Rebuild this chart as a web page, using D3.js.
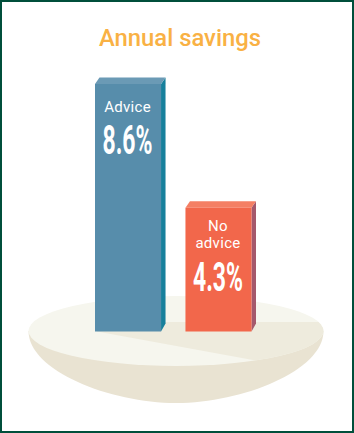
<!DOCTYPE html>
<html>
<head>
<meta charset="utf-8">
<script src="https://cdn.jsdelivr.net/npm/d3@7/dist/d3.min.js"></script>
<style>
html,body{margin:0;padding:0;background:#fff}
svg{display:block}
text{fill:#fff;text-anchor:middle}
</style>
</head>
<body>
<div id="chart"></div>
<script>
const titleText = ["Annual savings"];
const categories = ["Advice", "No advice"];
const values = [8.6, 4.3];
const valueLabels = ["8.6%", "4.3%"];
const labelLines = [["Advice"], ["No", "advice"]];
const frontColors = ["#578dab", "#f2674b"];
const topColors = ["#6b9ab5", "#f47f64"];
const sideColors = ["#17809c", "#a5596c"];

const W = 354, H = 433;
const svg = d3.select("#chart").append("svg").attr("width", W).attr("height", H);
svg.append("rect").attr("x",1).attr("y",1).attr("width",W-2).attr("height",H-2)
  .attr("fill","#fff").attr("stroke","#004f3b").attr("stroke-width",2);

const x = d3.scaleBand().domain(categories).range([95, 251.5]).paddingInner(0.27).paddingOuter(0);
const y = d3.scaleLinear().domain([0, 8.6]).range([331.5, 84]);

// dish
const cx = 176, cy = 331, rx = 147.5, ryTop = 35, ryBowl = 72;
const clipId = "plate";
svg.append("clipPath").attr("id", clipId).append("ellipse")
  .attr("cx",cx).attr("cy",cy).attr("rx",rx).attr("ry",ryTop);
const bowl = d3.path();
bowl.moveTo(cx-rx, cy);
bowl.bezierCurveTo(cx-rx, cy+ryBowl*0.55, cx-rx*0.45, cy+ryBowl, cx, cy+ryBowl);
bowl.bezierCurveTo(cx+rx*0.45, cy+ryBowl, cx+rx, cy+ryBowl*0.55, cx+rx, cy);
bowl.closePath();
svg.append("path").attr("d", bowl.toString()).attr("fill","#e9e3d2");
svg.append("ellipse").attr("cx",cx).attr("cy",cy).attr("rx",rx).attr("ry",ryTop).attr("fill","#f6f6ee");
svg.append("path").attr("clip-path",`url(#${clipId})`)
  .attr("d","M97,331.5L257,360.7L340,376V322H97Z").attr("fill","#eeebdd");

// bars
const dx = 4.5, dyTop = 6.5;
const g = svg.selectAll("g.bar").data(categories).join("g").attr("class","bar");
g.append("path")
  .attr("fill",(d,i)=>sideColors[i])
  .attr("d",(d,i)=>{
    const r = x(d)+x.bandwidth(), t = y(values[i]), b = y(0);
    return `M${r},${t}L${r+dx},${t-dyTop}V${b-8}L${r},${b}Z`;
  });
g.append("path")
  .attr("fill",(d,i)=>topColors[i])
  .attr("d",(d,i)=>{
    const l = x(d), r = l+x.bandwidth(), t = y(values[i]);
    return `M${l},${t}L${l+dx},${t-dyTop}H${r+dx}L${r},${t}Z`;
  });
g.append("rect")
  .attr("x",d=>x(d)).attr("width",x.bandwidth())
  .attr("y",(d,i)=>y(values[i])).attr("height",(d,i)=>y(0)-y(values[i]))
  .attr("fill",(d,i)=>frontColors[i]);

// labels
const font = "Roboto, sans-serif";
g.each(function(d,i){
  const sel = d3.select(this), mid = x(d)+x.bandwidth()/2 - 0.5, t = y(values[i]);
  labelLines[i].forEach((line,j)=>{
    sel.append("text").attr("x",mid).attr("y",t+(i?23:28)+j*17.6)
      .attr("font-family",font).attr("font-size",15).style("letter-spacing","0.3px").text(line);
  });
  sel.append("text").attr("x",mid).attr("y",t+(i?83:70))
    .attr("font-family",font)
    .attr("font-weight",700).attr("font-size",40)
    .attr("textLength",50).attr("lengthAdjust","spacingAndGlyphs").text(valueLabels[i]);
});

svg.append("text").attr("x",180).attr("y",46)
  .attr("font-family",font).attr("font-weight",500).attr("font-size",23.5)
  .style("fill","#f9b144").attr("textLength",162).attr("lengthAdjust","spacingAndGlyphs").text(titleText[0]);
</script>
</body>
</html>
